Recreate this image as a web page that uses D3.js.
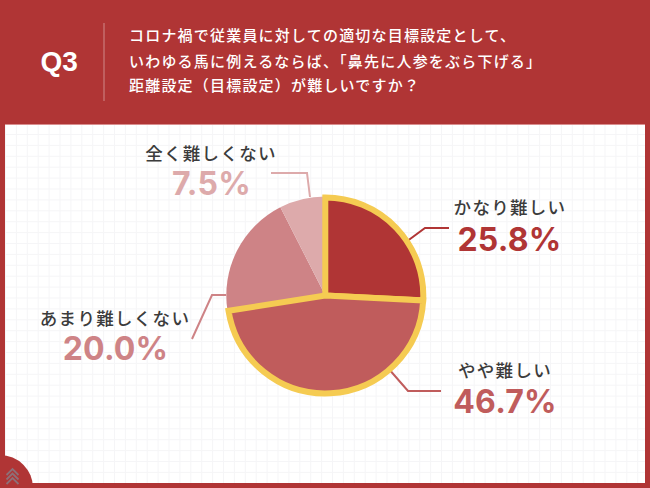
<!DOCTYPE html>
<html><head><meta charset="utf-8">
<script src="https://d3js.org/d3.v7.min.js"></script>
<style>html,body{margin:0;padding:0;background:#fff}svg{display:block}</style></head>
<body><svg id="c" width="650" height="488"></svg>
<script>
const categories = ["かなり難しい","やや難しい","あまり難しくない","全く難しくない"];
const values = [25.8,46.7,20.0,7.5];
const valueLabels = ["25.8%","46.7%","20.0%","7.5%"];
const colors = ["#B03535","#C05C5C","#CE8386","#DDAAAB"];
const title = ["コロナ禍で従業員に対しての適切な目標設定として、","いわゆる馬に例えるならば、「鼻先に人参をぶら下げる」","距離設定（目標設定）が難しいですか？"];

const RED="#B03535", YEL="#F5CB52", JP="'Noto Sans CJK JP'", NUM="Inter, 'Liberation Sans', sans-serif";
const svg=d3.select("#c");
svg.append("rect").attr("width",650).attr("height",488).attr("fill",RED);
svg.append("rect").attr("x",5).attr("y",124.5).attr("width",640).attr("height",358.5).attr("fill","#fff");
svg.append("path").attr("d","M5 124.5H645").attr("stroke","#D98F8F").attr("stroke-width",1);
const grid=svg.append("g").attr("stroke","#F5F5F7").attr("stroke-width",1);
d3.range(5.5,645,10.9).forEach(x=>grid.append("line").attr("x1",x).attr("x2",x).attr("y1",125).attr("y2",483));
d3.range(134.5,483,10.9).forEach(y=>grid.append("line").attr("x1",5).attr("x2",645).attr("y1",y).attr("y2",y));

// corner badge
svg.append("path").attr("d",d3.arc()({innerRadius:0,outerRadius:33,startAngle:0,endAngle:Math.PI/2})).attr("transform","translate(0,488)").attr("fill",RED);
const chev=svg.append("g").attr("fill","none").attr("stroke","#8E7078").attr("stroke-width",1.8);
[470,474.5,479].forEach(y=>chev.append("path").attr("d",`M6.5 ${y+5}L12.5 ${y-1}L18.5 ${y+5}`));

// header
svg.append("text").text("Q3").attr("x",40.5).attr("y",71).attr("fill","#fff").attr("font-family","'Liberation Sans'").attr("font-weight",700).attr("font-size",28);
svg.append("line").attr("x1",104).attr("x2",104).attr("y1",23).attr("y2",101).attr("stroke","#D08A8A").attr("stroke-width",1);
[41,67,91].forEach((y,i)=>svg.append("text").text(title[i]).attr("x",129).attr("y",y).attr("fill","#fff").attr("font-family",JP).attr("font-weight",500).attr("font-size",15).attr("letter-spacing",1.2));

// leaders
const leaderLayout=[[[406,242],[425,228],[449,228]],[[388,368],[408,391],[441,391]],[[226,295],[212,295],[192,339]],[[310,197],[307,173],[271,173]]];
const line=d3.line();
leaderLayout.forEach((p,i)=>svg.append("path").attr("d",line(p)).attr("fill","none").attr("stroke",colors[i]).attr("stroke-width",2));

// pie
const cx=325.3, cy=295.5;
const pie=d3.pie().value(d=>d).sort(null);
const arcs=pie(values);
const g=svg.append("g").attr("transform",`translate(${cx},${cy})`);
const plain=d3.arc().innerRadius(0).outerRadius(99);
const ring=d3.arc().innerRadius(0).outerRadius(98);
g.selectAll("path.s").data(arcs).join("path").attr("class","s").attr("d",plain).attr("fill",(d,i)=>colors[i]);
g.selectAll("path.o").data(arcs.slice(0,2)).join("path").attr("class","o").attr("d",ring).attr("fill",(d,i)=>colors[i]).attr("stroke",YEL).attr("stroke-width",6).attr("stroke-linejoin","miter");

// labels
const labelPos=[[510,208,509.5,239],[505,371,505,401],[115,319,115.5,348],[211,154,211.5,183]];
categories.forEach((c,i)=>{
 const p=labelPos[i];
 svg.append("text").text(c).attr("x",p[0]).attr("y",p[1]).attr("dy","0.36em").attr("text-anchor","middle").attr("fill","#3C3C3C").attr("font-family",JP).attr("font-weight",500).attr("font-size",17.5).attr("letter-spacing",1.3);
 svg.append("text").text(valueLabels[i]).attr("x",p[2]).attr("y",p[3]).attr("dy","0.36em").attr("text-anchor","middle").attr("fill",colors[i]).attr("font-family",NUM).attr("font-weight",700).attr("font-size",32).attr("letter-spacing",0.2);
});
</script></body></html>
